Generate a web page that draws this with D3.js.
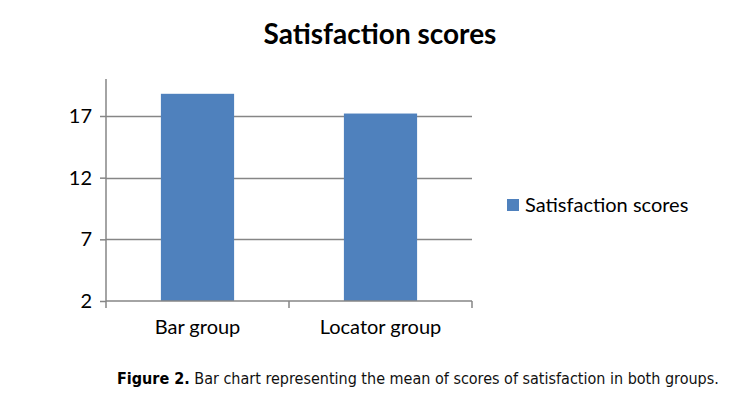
<!DOCTYPE html>
<html>
<head>
<meta charset="utf-8">
<script src="https://cdn.jsdelivr.net/npm/d3@7"></script>
<style>
  body { margin: 0; background: #fff; }
  svg { display: block; }
</style>
</head>
<body>
<div id="canvas"></div>
<script>
// data
var groups = ['Bar group', 'Locator group'];
var scores = [18.8, 17.2];
var yTicks = [2, 7, 12, 17];
var seriesName = 'Satisfaction scores';

var W = 740, H = 396;
var m = {t: 79, r: 268, b: 95, l: 106};
var w = W - m.l - m.r, h = H - m.t - m.b;

var svg = d3.select('#canvas').append('svg')
    .attr('width', W).attr('height', H);

var plot = svg.append('g')
    .attr('transform', 'translate(' + m.l + ',' + m.t + ')');

var x = d3.scaleBand().domain(groups).range([0, w]).padding(0);
var y = d3.scaleLinear().domain([2, 20]).range([h, 0]);

var font = 'Lato, "Open Sans", sans-serif';
var grid = '#868686';

// gridlines
plot.selectAll('.grid')
    .data(yTicks.slice(1))
  .enter().append('line')
    .attr('x1', 0).attr('x2', w)
    .attr('y1', function(d){ return Math.round(y(d)) + 0.5; })
    .attr('y2', function(d){ return Math.round(y(d)) + 0.5; })
    .attr('stroke', grid).attr('stroke-width', 1.5);

// bars
var bw = x.bandwidth() * 0.4;
plot.selectAll('.bar')
    .data(scores)
  .enter().append('rect')
    .attr('x', function(d, i){ return x(groups[i]) + (x.bandwidth() - bw) / 2; })
    .attr('y', function(d){ return y(d); })
    .attr('width', bw)
    .attr('height', function(d){ return h - y(d); })
    .attr('fill', '#4F81BD');

// y axis
var yAxis = plot.append('g')
    .call(d3.axisLeft(y).tickValues(yTicks).tickSize(6).tickPadding(8).tickFormat(d3.format('d')));
yAxis.select('.domain').attr('stroke', grid).attr('stroke-width', 1.5)
    .attr('d', 'M0,0V' + h);
yAxis.selectAll('line').attr('stroke', grid).attr('stroke-width', 1.5);
yAxis.selectAll('text').style('font-family', font).style('font-size', '20px').attr('fill', '#000');

// x axis
var xAxis = plot.append('g')
    .attr('transform', 'translate(0,' + h + ')')
    .call(d3.axisBottom(x).tickSize(0).tickPadding(19));
xAxis.select('.domain').attr('stroke', grid).attr('stroke-width', 1.5).attr('d', 'M0,0H' + w);
xAxis.selectAll('text').style('font-family', font).style('font-size', '20px').attr('fill', '#000');

// category separators
var edges = [0].concat(groups.map(function(g){ return x(g) + x.bandwidth(); }));
plot.selectAll('.sep')
    .data(edges)
  .enter().append('line')
    .attr('x1', function(d){ return d; }).attr('x2', function(d){ return d; })
    .attr('y1', h).attr('y2', h + 7)
    .attr('stroke', grid).attr('stroke-width', 1.5);

// title
svg.append('text')
    .attr('x', 380).attr('y', 44)
    .attr('text-anchor', 'middle')
    .style('font-family', font).style('font-size', '28px').style('font-weight', 'bold')
    .text(seriesName);

// legend
var lg = svg.append('g').attr('transform', 'translate(507,199)');
lg.append('rect').attr('width', 12).attr('height', 12).attr('fill', '#4F81BD');
lg.append('text').attr('x', 18).attr('y', 13)
    .style('font-family', font).style('font-size', '20px')
    .text(seriesName);

// caption
var cap = svg.append('text')
    .attr('x', 117).attr('y', 384)
    .style('font-family', '"Liberation Sans Narrow", "DejaVu Sans Condensed", sans-serif')
    .style('font-size', '16px');
cap.append('tspan').style('font-weight', 'bold').attr('fill', '#000').text('Figure 2.');
cap.append('tspan').attr('fill', '#111').text(' Bar chart representing the mean of scores of satisfaction in both groups.');
</script>
</body>
</html>
